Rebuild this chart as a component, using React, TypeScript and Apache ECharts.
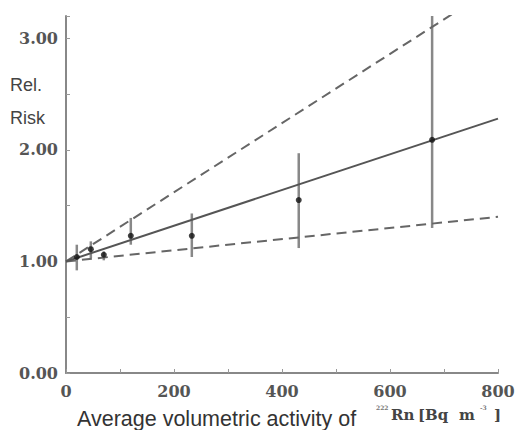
import React, { useEffect, useRef } from "react";
import * as echarts from "echarts";

// Data
const radonX = [20, 46, 70, 120, 233, 431, 678];
const relRisk = [1.04, 1.11, 1.06, 1.23, 1.23, 1.55, 2.09];
const errLow = [0.92, 1.03, 1.01, 1.15, 1.04, 1.12, 1.3];
const errHigh = [1.15, 1.18, 1.09, 1.39, 1.43, 1.97, 3.3];

const fitX = [0, 800];
const fitCentral = [1.0, 2.28];
const fitUpper = [1.0, 3.48];
const fitLower = [1.0, 1.4];

const xTickLabels = ["0", "200", "400", "600", "800"];
const yTickLabels = ["0.00", "1.00", "2.00", "3.00"];

export default function App() {
  const ref = useRef<HTMLDivElement>(null);

  useEffect(() => {
    document.body.style.margin = "0";
    if (!ref.current) return;
    const chart = echarts.init(ref.current, undefined, { renderer: "svg" });

    const points = radonX.map((x, i) => [x, relRisk[i]]);
    const bars = radonX.map((x, i) => [x, errLow[i], errHigh[i]]);
    const line = (ys: number[]) => fitX.map((x, i) => [x, ys[i]]);

    const serifLabel = {
      fontFamily: "DejaVu Serif",
      fontWeight: "bold" as const,
      fontSize: 16,
      color: "#555",
    };
    const unitStyle = (size: number, fill: string) => ({
      fontFamily: "DejaVu Serif",
      fontWeight: "bold",
      fontSize: size,
      fill,
    });

    chart.setOption({
      animation: false,
      backgroundColor: "#fff",
      grid: { left: 66, right: 20, top: 16, bottom: 57, containLabel: false },
      xAxis: {
        type: "value",
        min: 0,
        max: 800,
        interval: 100,
        splitLine: { show: false },
        axisLine: { show: true, lineStyle: { color: "#888", width: 2 } },
        axisTick: { show: true, inside: true, length: 4, lineStyle: { color: "#999", width: 1 } },
        axisLabel: {
          ...serifLabel,
          margin: 10,
          lineHeight: 16,
          formatter: (v: number) => (xTickLabels.includes(String(v)) ? String(v) : ""),
        },
      },
      yAxis: {
        type: "value",
        min: 0,
        max: 3.2,
        interval: 0.5,
        splitLine: { show: false },
        axisLine: { show: true, lineStyle: { color: "#888", width: 2 } },
        axisTick: { show: true, inside: true, length: 4, lineStyle: { color: "#999", width: 1 } },
        axisLabel: {
          ...serifLabel,
          margin: 8,
          formatter: (v: number) => {
            const s = v.toFixed(2);
            return yTickLabels.includes(s) ? s : "";
          },
        },
      },
      series: [
        {
          type: "line",
          data: line(fitUpper),
          symbol: "none",
          clip: true,
          lineStyle: { color: "#666", width: 2, type: [10, 6] },
        },
        {
          type: "line",
          data: line(fitLower),
          symbol: "none",
          clip: true,
          lineStyle: { color: "#666", width: 2, type: [10, 6] },
        },
        {
          type: "line",
          data: line(fitCentral),
          symbol: "none",
          clip: true,
          lineStyle: { color: "#555", width: 2 },
        },
        {
          type: "custom",
          clip: true,
          data: bars,
          renderItem: (params: any, api: any) => {
            const x = api.value(0);
            const p1 = api.coord([x, api.value(1)]);
            const p2 = api.coord([x, api.value(2)]);
            return {
              type: "line",
              shape: { x1: p1[0], y1: p1[1], x2: p2[0], y2: p2[1] },
              style: { stroke: "#888", lineWidth: 2.5 },
            };
          },
          z: 3,
        },
        {
          type: "scatter",
          data: points,
          symbol: "circle",
          symbolSize: 6,
          itemStyle: { color: "#111" },
          z: 5,
        },
      ],
      graphic: [
        {
          type: "text",
          left: 10,
          top: 76,
          style: { text: "Rel.", fontFamily: "Liberation Sans", fontSize: 18, fill: "#444" },
        },
        {
          type: "text",
          left: 10,
          top: 109,
          style: { text: "Risk", fontFamily: "Liberation Sans", fontSize: 18, fill: "#444" },
        },
        {
          type: "text",
          left: 77,
          top: 408,
          style: {
            text: "Average volumetric activity of",
            fontFamily: "Liberation Sans",
            fontSize: 21.5,
            fill: "#333",
          },
        },
        { type: "text", left: 376, top: 404, style: { text: "222", ...unitStyle(6, "#777") } },
        { type: "text", left: 391, top: 407, style: { text: "Rn", ...unitStyle(15, "#444") } },
        { type: "text", left: 418, top: 407, style: { text: "[Bq", ...unitStyle(15, "#444") } },
        { type: "text", left: 459, top: 407, style: { text: "m", ...unitStyle(15, "#444") } },
        { type: "text", left: 480, top: 404, style: { text: "-3", ...unitStyle(6, "#777") } },
        { type: "text", left: 494, top: 407, style: { text: "]", ...unitStyle(15, "#444") } },
      ],
    });

    return () => chart.dispose();
  }, []);

  return <div ref={ref} style={{ width: 518, height: 430 }} />;
}
